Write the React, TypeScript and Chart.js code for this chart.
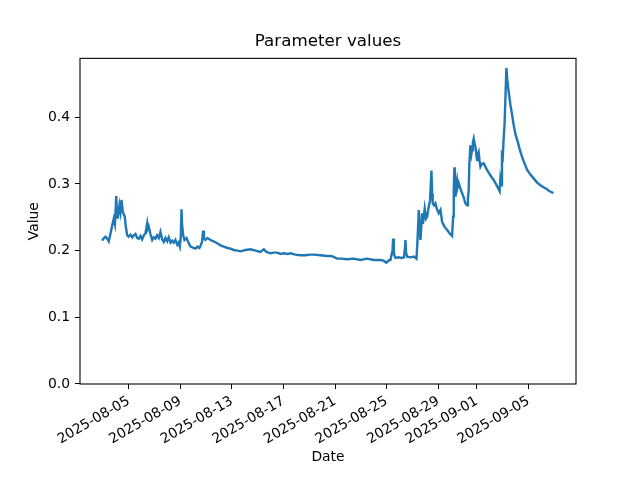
import React, { useEffect, useRef } from "react";
import { Chart, registerables } from "chart.js";

Chart.register(...registerables);

// Days elapsed since 2025-08-01 00:00
const sampleDays: number[] = [
  1.94, 2.04, 2.2, 2.33, 2.45, 2.59, 2.72, 2.84, 2.93, 3.03, 3.09, 3.15, 3.28, 3.36, 3.44, 3.54, 3.69, 3.78, 3.88,
  4.0, 4.14, 4.27, 4.39, 4.52, 4.66, 4.78, 4.91, 5.04, 5.17, 5.3, 5.43, 5.48, 5.55, 5.68, 5.82, 5.94, 6.07, 6.2,
  6.33, 6.46, 6.59, 6.72, 6.85, 6.98, 7.1, 7.24, 7.37, 7.49, 7.62, 7.76, 7.86, 7.96, 8.04, 8.09, 8.14, 8.22, 8.32,
  8.48, 8.63, 8.79, 8.94, 9.17, 9.33, 9.48, 9.56, 9.68, 9.77, 9.83, 9.95, 10.1, 10.34, 10.57, 10.86, 11.11, 11.37,
  11.66, 11.89, 12.14, 12.43, 12.66, 13.05, 13.44, 13.83, 14.21, 14.47, 14.68, 14.99, 15.22, 15.51, 15.76, 16.02,
  16.31, 16.54, 16.92, 17.31, 17.7, 18.09, 18.35, 18.86, 19.38, 19.72, 20.16, 20.49, 20.93, 21.45, 21.97, 22.48,
  22.99, 23.52, 23.75, 23.98, 24.14, 24.29, 24.45, 24.5, 24.56, 24.68, 24.91, 25.14, 25.34, 25.42, 25.46, 25.51,
  25.59, 25.84, 26.1, 26.31, 26.39, 26.49, 26.56, 26.62, 26.75, 26.81, 26.95, 27.05, 27.14, 27.26, 27.36, 27.47,
  27.53, 27.57, 27.67, 27.78, 27.9, 28.04, 28.17, 28.3, 28.48, 28.69, 28.87, 29.07, 29.15, 29.2, 29.25, 29.29,
  29.33, 29.39, 29.46, 29.52, 29.59, 29.72, 29.85, 29.97, 30.1, 30.23, 30.3, 30.36, 30.41, 30.49, 30.57, 30.62,
  30.68, 30.75, 30.82, 30.88, 30.96, 31.01, 31.07, 31.13, 31.2, 31.27, 31.38, 31.52, 31.65, 31.78, 32.04, 32.29,
  32.5, 32.76, 32.81, 32.87, 32.94, 33.0, 33.07, 33.14, 33.21, 33.28, 33.36, 33.46, 33.6, 33.73, 33.85, 33.98,
  34.18, 34.37, 34.6, 34.89, 35.15, 35.41, 35.67, 35.92, 36.16, 36.44, 36.62, 36.78, 36.91,
];

const values: number[] = [
  0.215, 0.218, 0.221, 0.218, 0.214, 0.226, 0.238, 0.248, 0.24, 0.282, 0.255, 0.248, 0.268, 0.258, 0.276, 0.258,
  0.251, 0.235, 0.223, 0.221, 0.224, 0.22, 0.223, 0.225, 0.219, 0.218, 0.222, 0.217, 0.223, 0.226, 0.241, 0.233,
  0.236, 0.225, 0.216, 0.22, 0.218, 0.223, 0.219, 0.228, 0.217, 0.213, 0.219, 0.214, 0.22, 0.212, 0.215, 0.212,
  0.216, 0.209, 0.212, 0.206, 0.222, 0.262, 0.238, 0.223, 0.216, 0.219, 0.212, 0.206, 0.205, 0.203, 0.206, 0.204,
  0.207, 0.213, 0.23, 0.218, 0.216, 0.219, 0.216, 0.214, 0.211, 0.208, 0.206, 0.204, 0.203, 0.201, 0.2, 0.199,
  0.201, 0.202, 0.2, 0.198, 0.202, 0.198, 0.196, 0.197, 0.197, 0.195, 0.196, 0.195, 0.196, 0.194, 0.193, 0.193,
  0.194, 0.194, 0.193, 0.192, 0.192, 0.188, 0.188, 0.187, 0.188, 0.186, 0.188, 0.186, 0.186, 0.185, 0.182, 0.185,
  0.186, 0.2, 0.218, 0.195, 0.189, 0.19, 0.189, 0.19, 0.205, 0.216, 0.196, 0.191, 0.19, 0.191, 0.188, 0.215,
  0.261, 0.23, 0.216, 0.256, 0.24, 0.263, 0.248, 0.251, 0.266, 0.275, 0.32, 0.285, 0.271, 0.268, 0.271, 0.262,
  0.256, 0.261, 0.243, 0.236, 0.231, 0.226, 0.222, 0.251, 0.29, 0.325, 0.3, 0.281, 0.297, 0.306, 0.296, 0.301,
  0.293, 0.286, 0.28, 0.271, 0.268, 0.278, 0.291, 0.33, 0.358, 0.345, 0.351, 0.362, 0.368, 0.36, 0.356, 0.342,
  0.336, 0.345, 0.348, 0.335, 0.326, 0.33, 0.331, 0.326, 0.321, 0.313, 0.306, 0.299, 0.289, 0.306, 0.298, 0.343,
  0.34, 0.368, 0.39, 0.43, 0.474, 0.455, 0.438, 0.418, 0.403, 0.388, 0.375, 0.362, 0.348, 0.335, 0.321, 0.314,
  0.308, 0.302, 0.298, 0.295, 0.292, 0.289, 0.288, 0.286,
];

const xTickDays: number[] = [4, 8, 12, 16, 20, 24, 28, 31, 35];
const xTickLabels: string[] = [
  "2025-08-05", "2025-08-09", "2025-08-13", "2025-08-17", "2025-08-21",
  "2025-08-25", "2025-08-29", "2025-09-01", "2025-09-05",
];
const yTickValues: number[] = [0, 0.1, 0.2, 0.3, 0.4];
const yTickLabels: string[] = ["0.0", "0.1", "0.2", "0.3", "0.4"];

const frame = {
  id: "frame",
  afterDatasetsDraw(chart: any) {
    const { ctx, chartArea } = chart;
    ctx.save();
    ctx.strokeStyle = "#000";
    ctx.lineWidth = 1.1;
    ctx.strokeRect(chartArea.left, chartArea.top, chartArea.right - chartArea.left, chartArea.bottom - chartArea.top);
    ctx.restore();
  },
};

export default function App() {
  const ref = useRef<HTMLCanvasElement | null>(null);
  useEffect(() => {
    if (!ref.current) return;
    Chart.defaults.font.family = "'DejaVu Sans', sans-serif";
    Chart.defaults.color = "#000";
    const chart = new Chart(ref.current, {
      type: "line",
      data: {
        datasets: [
          {
            data: sampleDays.map((d, i) => ({ x: d, y: values[i] })),
            borderColor: "#1f77b4",
            borderWidth: 2.4,
            pointRadius: 0,
            tension: 0,
            yAxisID: "y",
          },
        ],
      },
      options: {
        animation: false,
        responsive: false,
        devicePixelRatio: 1,
        layout: { padding: { left: 16, right: 0, top: 0, bottom: 0 } },
        plugins: {
          legend: { display: false },
          tooltip: { enabled: false },
          title: {
            display: true,
            text: "Parameter values",
            color: "#000",
            font: { size: 16.7, weight: "normal" },
            padding: { top: 32, bottom: 6.3 },
          },
        },
        scales: {
          x: {
            type: "linear",
            min: 0.22,
            max: 38.68,
            afterFit(scale: any) {
              scale.height = 96;
            },
            afterBuildTicks(scale: any) {
              scale.ticks = xTickDays.map((v) => ({ value: v }));
            },
            ticks: {
              autoSkip: false,
              minRotation: 30,
              maxRotation: 30,
              padding: 4,
              font: { size: 13.9 },
              color: "#000",
              callback: (v: any) => {
                const i = xTickDays.indexOf(Number(v));
                return i >= 0 ? xTickLabels[i] : "";
              },
            },
            grid: { drawOnChartArea: false, drawTicks: true, tickLength: 5, color: "#000" },
            border: { display: false },
            title: {
              display: true,
              text: "Date",
              color: "#000",
              font: { size: 13.9 },
              padding: { top: 0, bottom: 14.5 },
            },
          },
          y: {
            type: "linear",
            position: "left",
            min: 0,
            max: 0.4884,
            afterFit(scale: any) {
              scale.width = 64;
            },
            afterBuildTicks(scale: any) {
              scale.ticks = yTickValues.map((v) => ({ value: v }));
            },
            ticks: {
              padding: 5,
              font: { size: 13.9 },
              color: "#000",
              callback: (v: any) => {
                const i = yTickValues.findIndex((t) => Math.abs(t - Number(v)) < 1e-9);
                return i >= 0 ? yTickLabels[i] : "";
              },
            },
            grid: { drawOnChartArea: false, drawTicks: true, tickLength: 5, color: "#000" },
            border: { display: false },
            title: {
              display: true,
              text: "Value",
              color: "#000",
              font: { size: 13.9 },
              padding: { top: 10.5, bottom: 0 },
            },
          },
          spacer: {
            type: "linear",
            position: "right",
            display: true,
            afterFit(scale: any) {
              scale.width = 64;
            },
            ticks: { display: false },
            grid: { display: false, drawTicks: false },
            border: { display: false },
          },
        },
      },
      plugins: [frame],
    } as any);
    return () => chart.destroy();
  }, []);
  return (
    <div style={{ position: "fixed", left: 0, top: 0, width: 640, height: 480, background: "#fff" }}>
      <canvas ref={ref} width={640} height={480} style={{ width: 640, height: 480, display: "block" }} />
    </div>
  );
}
